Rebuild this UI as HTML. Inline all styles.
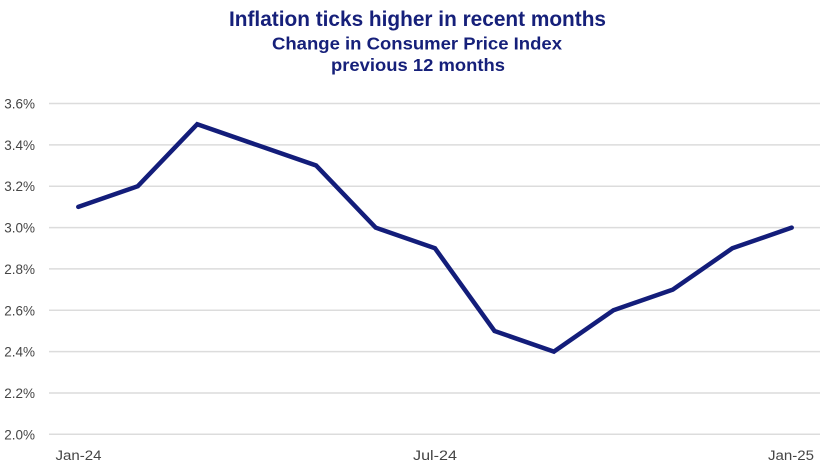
<!DOCTYPE html>
<html>
<head>
<meta charset="utf-8">
<style>
  html, body { margin: 0; padding: 0; background: #ffffff; }
  body { width: 840px; height: 472px; overflow: hidden; }
  svg { display: block; }
  .t { font-family: "Liberation Sans", sans-serif; font-weight: bold; fill: #16207a; }
  .ax { font-family: "Liberation Sans", sans-serif; font-size: 13.5px; fill: #454545; }
</style>
</head>
<body>
<svg width="840" height="472" viewBox="0 0 840 472" xmlns="http://www.w3.org/2000/svg">
  <rect width="840" height="472" fill="#ffffff"/>
  <!-- Titles -->
  <text class="t" x="417.5" y="26" font-size="21" text-anchor="middle" textLength="377" lengthAdjust="spacingAndGlyphs">Inflation ticks higher in recent months</text>
  <text class="t" x="417" y="49.3" font-size="17.5" text-anchor="middle" textLength="290" lengthAdjust="spacingAndGlyphs">Change in Consumer Price Index</text>
  <text class="t" x="418" y="71" font-size="17.5" text-anchor="middle" textLength="174" lengthAdjust="spacingAndGlyphs">previous 12 months</text>

  <!-- Gridlines -->
  <g stroke="#dcdcdc" stroke-width="1.5">
    <line x1="49" x2="820" y1="103.5" y2="103.5"/>
    <line x1="49" x2="820" y1="144.9" y2="144.9"/>
    <line x1="49" x2="820" y1="186.2" y2="186.2"/>
    <line x1="49" x2="820" y1="227.6" y2="227.6"/>
    <line x1="49" x2="820" y1="268.9" y2="268.9"/>
    <line x1="49" x2="820" y1="310.3" y2="310.3"/>
    <line x1="49" x2="820" y1="351.6" y2="351.6"/>
    <line x1="49" x2="820" y1="393.0" y2="393.0"/>
    <line x1="49" x2="820" y1="434.3" y2="434.3"/>
  </g>

  <!-- Y labels -->
  <g class="ax" text-anchor="end">
    <text x="35" y="108.5">3.6%</text>
    <text x="35" y="149.9">3.4%</text>
    <text x="35" y="191.2">3.2%</text>
    <text x="35" y="232.6">3.0%</text>
    <text x="35" y="273.9">2.8%</text>
    <text x="35" y="315.3">2.6%</text>
    <text x="35" y="356.6">2.4%</text>
    <text x="35" y="398.0">2.2%</text>
    <text x="35" y="439.3">2.0%</text>
  </g>

  <!-- X labels -->
  <g class="ax" text-anchor="middle" font-size="14">
    <text x="78.5" y="460" textLength="46" lengthAdjust="spacingAndGlyphs">Jan-24</text>
    <text x="435" y="460" textLength="44" lengthAdjust="spacingAndGlyphs">Jul-24</text>
    <text x="791" y="460" textLength="46" lengthAdjust="spacingAndGlyphs">Jan-25</text>
  </g>

  <!-- Series -->
  <polyline fill="none" stroke="#131d7a" stroke-width="4.5" stroke-linejoin="miter" stroke-linecap="round"
    points="78.3,206.9 137.8,186.2 197.2,124.2 256.7,144.9 316.1,165.5 375.6,227.6 435.0,248.3 494.5,331.0 553.9,351.6 613.4,310.3 672.8,289.6 732.3,248.3 791.7,227.6"/>
</svg>
</body>
</html>
